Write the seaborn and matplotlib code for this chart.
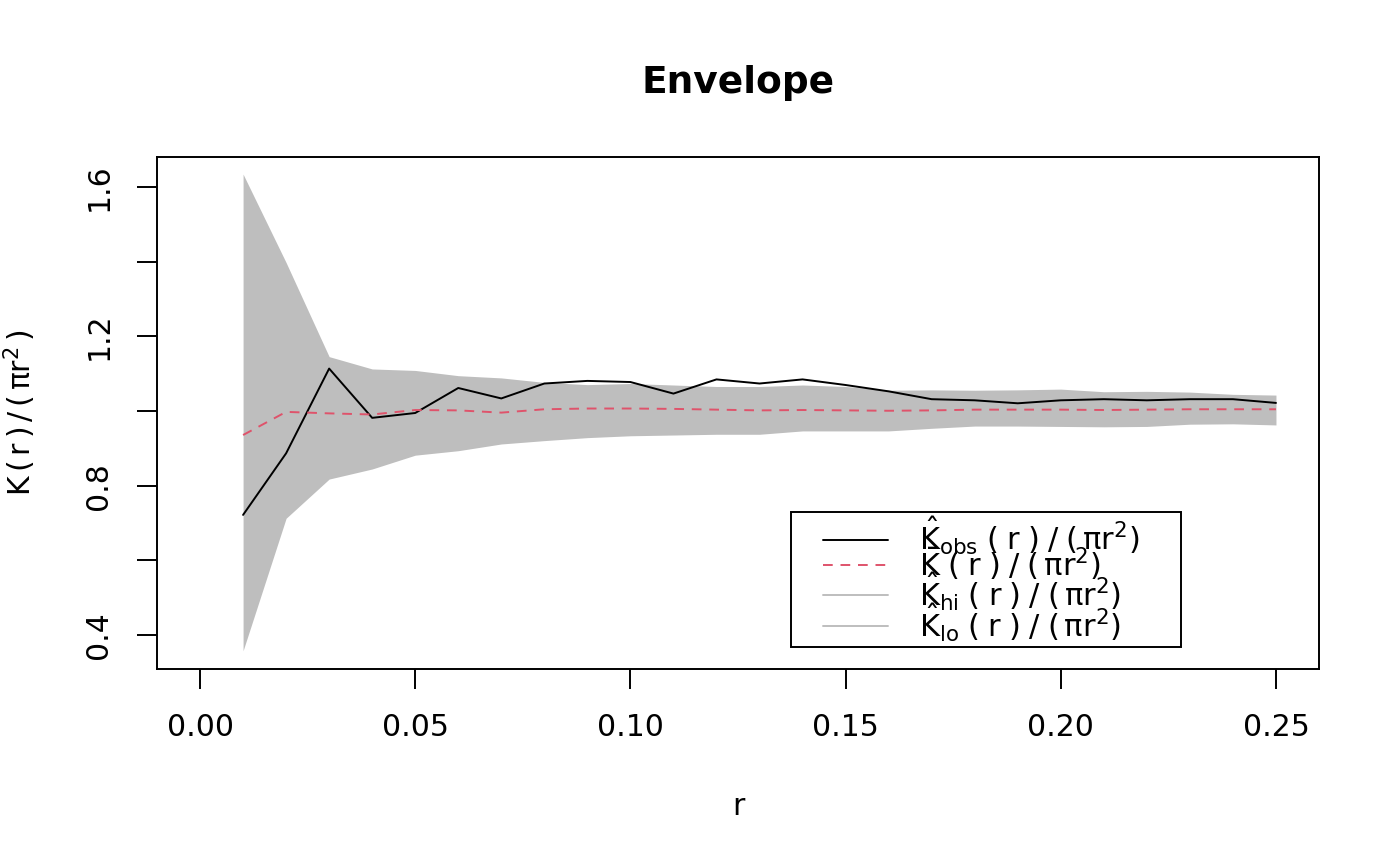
import numpy as np
import pandas as pd
import matplotlib
matplotlib.use("Agg")
import matplotlib.pyplot as plt
from matplotlib.lines import Line2D
from matplotlib.legend_handler import HandlerLine2D
import seaborn as sns

# Envelope data
r = [0.01, 0.02, 0.03, 0.04, 0.05, 0.06, 0.07, 0.08, 0.09, 0.10,
     0.11, 0.12, 0.13, 0.14, 0.15, 0.16, 0.17, 0.18, 0.19, 0.20,
     0.21, 0.22, 0.23, 0.24, 0.25]
k_obs = [0.722, 0.887, 1.114, 0.982, 0.995, 1.062, 1.034, 1.074, 1.081, 1.078,
         1.047, 1.085, 1.074, 1.085, 1.070, 1.053, 1.032, 1.029, 1.021, 1.029,
         1.032, 1.029, 1.032, 1.032, 1.022]
k_mean = [0.936, 0.998, 0.994, 0.991, 1.003, 1.002, 0.996, 1.005, 1.007, 1.007,
          1.006, 1.004, 1.002, 1.003, 1.002, 1.001, 1.002, 1.004, 1.004, 1.004,
          1.003, 1.004, 1.005, 1.005, 1.005]
k_hi = [1.635, 1.398, 1.146, 1.113, 1.109, 1.095, 1.089, 1.077, 1.071, 1.074,
        1.070, 1.066, 1.066, 1.070, 1.066, 1.056, 1.057, 1.056, 1.057, 1.059,
        1.052, 1.053, 1.051, 1.045, 1.043]
k_lo = [0.358, 0.713, 0.818, 0.845, 0.882, 0.894, 0.912, 0.921, 0.929, 0.934,
        0.936, 0.938, 0.938, 0.947, 0.947, 0.947, 0.954, 0.960, 0.960, 0.959,
        0.958, 0.959, 0.965, 0.966, 0.963]

df = pd.DataFrame({"r": r, "obs": k_obs, "mmean": k_mean, "hi": k_hi, "lo": k_lo})

sns.set_style("ticks")
plt.rcParams["font.family"] = ["DejaVu Sans"]
plt.rcParams["mathtext.fontset"] = "dejavusans"
plt.rcParams["mathtext.default"] = "regular"
for key in ["text.color", "axes.labelcolor", "xtick.color", "ytick.color", "axes.edgecolor"]:
    plt.rcParams[key] = "black"

red = "#DF536B"
grey = "#BEBEBE"
fs = 21.5
lw = 1.4
dash = (0, (5, 4))

fig = plt.figure(figsize=(14, 8.66), dpi=100)
ax = fig.add_axes([157 / 1400, 1 - 669 / 866, 1162 / 1400, 512 / 866])

# envelope band, then observed and mean curves
ax.fill_between(df["r"], df["lo"], df["hi"], color=grey, linewidth=0)
sns.lineplot(data=df, x="r", y="obs", color="black", linewidth=lw, ax=ax)
sns.lineplot(data=df, x="r", y="mmean", color=red, linewidth=lw, linestyle=dash, ax=ax)

ax.set_xlim(-0.01, 0.26)
ax.set_ylim(0.3092, 1.6808)
ax.set_xticks([0.0, 0.05, 0.10, 0.15, 0.20, 0.25])
ax.set_xticklabels(["0.00", "0.05", "0.10", "0.15", "0.20", "0.25"])
ax.set_yticks([0.4, 0.6, 0.8, 1.0, 1.2, 1.4, 1.6])
ax.set_yticklabels(["0.4", "", "0.8", "", "1.2", "", "1.6"], rotation=90, va="center")
ax.tick_params(axis="both", length=14.4, width=lw, labelsize=fs, pad=17, color="black")
for s in ax.spines.values():
    s.set_linewidth(lw)

ax.set_title("Envelope", fontsize=27, fontweight="bold", pad=46)
ax.set_xlabel("r", fontsize=fs)
ax.xaxis.set_label_coords(0.5, -0.268)
ax.xaxis.label.set_va("center")
ax.set_ylabel(r"$K\,(\,r\,)\,/\,(\,\pi r^2\,)$", fontsize=fs)
ax.yaxis.set_label_coords(-0.118, 0.5)
ax.yaxis.label.set_va("center")

handles = [
    Line2D([], [], color="black", linewidth=lw),
    Line2D([], [], color=red, linewidth=lw, linestyle=dash),
    Line2D([], [], color=grey, linewidth=lw),
    Line2D([], [], color=grey, linewidth=lw),
]
labels = [
    r"$\hat{K}_{obs}\;(\;r\;)\;/\;(\,\pi r^2)$",
    r"$\bar{K}\;(\;r\;)\;/\;(\,\pi r^2)$",
    r"$\hat{K}_{hi}\;(\;r\;)\;/\;(\,\pi r^2)$",
    r"$\hat{K}_{lo}\;(\;r\;)\;/\;(\,\pi r^2)$",
]
leg = ax.legend(handles, labels, loc="upper left",
                bbox_to_anchor=((791 - 157) / 1162, 0, 390 / 1162, 1 - (512 - 157) / 512),
                mode="expand",
                fontsize=22, frameon=True, fancybox=False, framealpha=1,
                edgecolor="black", borderaxespad=0, borderpad=0.1,
                labelspacing=-0.38, handlelength=3.08, handletextpad=1.0,
                handler_map={Line2D: HandlerLine2D(xpad=0.95)})
leg.get_frame().set_linewidth(lw)

fig.savefig("out.png", dpi=100)
